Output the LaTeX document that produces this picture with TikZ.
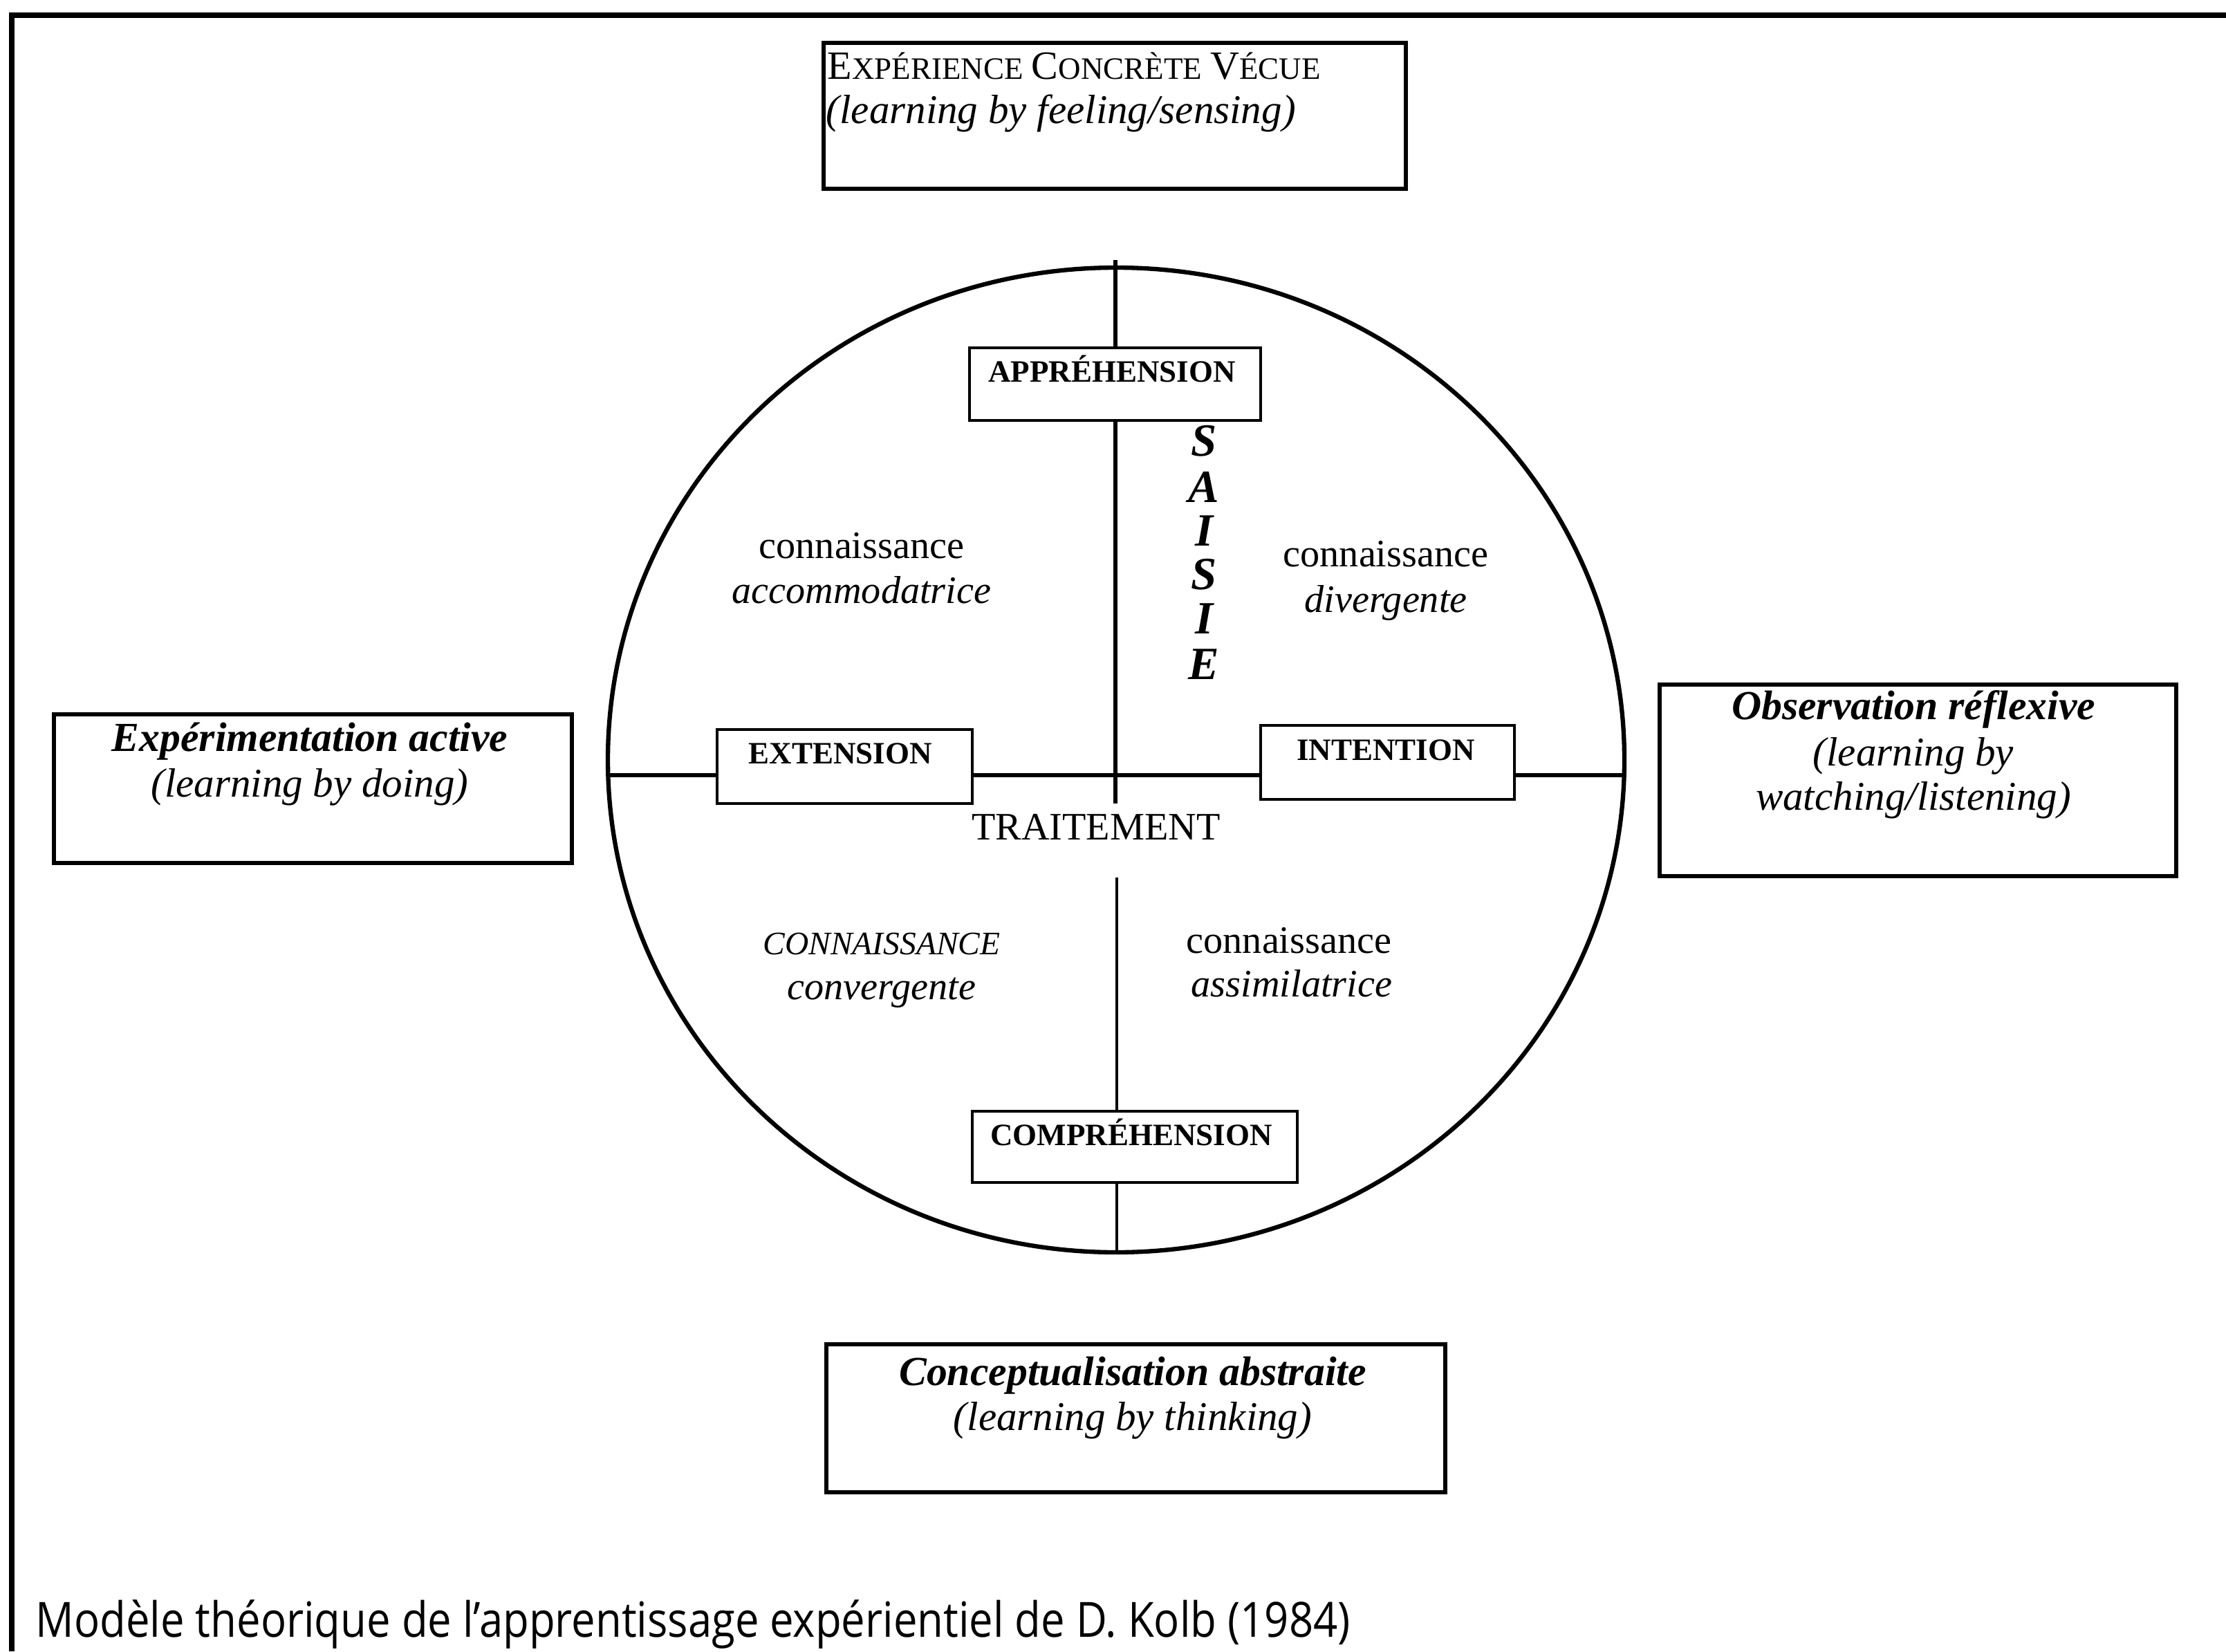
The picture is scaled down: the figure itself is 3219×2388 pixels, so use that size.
\documentclass[tikz,border=0pt]{standalone}
\usepackage{fontspec}
\usepackage{graphicx}
\setmainfont{Liberation Serif}
\newfontfamily\capfont{Open Sans}
\usetikzlibrary{fit}
\newcommand\skc[2]{{\fontsize{16.5}{18}\selectfont #1}{\fontsize{12.8}{15}\selectfont #2}}
\begin{document}
\begin{tikzpicture}[x=0.1mm,y=-0.1mm,
  bigbox/.style={draw, line width=1.7pt, inner sep=0pt},
  smallbox/.style={draw, line width=1.0pt, inner sep=0pt},
  axisline/.style={line width=1.8pt},
  thinaxis/.style={line width=1.2pt},
  lbl/.style={inner sep=0pt, anchor=base, font=\fontsize{16}{18}\selectfont},
  ilbl/.style={inner sep=0pt, anchor=base, font=\itshape\fontsize{16}{18}\selectfont},
  bcap/.style={inner sep=0pt, anchor=base, font=\bfseries\fontsize{12.8}{15}\selectfont},
  head/.style={inner sep=0pt, anchor=base, font=\bfseries\itshape\fontsize{17}{19}\selectfont},
  sub/.style={inner sep=0pt, anchor=base, font=\itshape\fontsize{16.8}{19}\selectfont},
  vlet/.style={inner sep=0pt, font=\bfseries\itshape\fontsize{19}{21}\selectfont}]
\useasboundingbox (0,0) rectangle (3219,2388);
% outer frame
\draw[line width=2.2pt] (17,2388) -- (17,22) -- (3219,22);

% outer boxes
\node[bigbox, fit={(1191,62) (2033,273)}] (ec) {};
\node[inner sep=0pt, anchor=base west, font=\fontsize{14}{16}\selectfont] (ec1) at (1196,115) {\skc{E}{XPÉRIENCE} \skc{C}{ONCRÈTE} \skc{V}{ÉCUE}};
\node[sub, anchor=base west] (ec2) at (1194,179) {(learning by feeling/sensing)};

\node[bigbox, fit={(78,1033) (827,1248)}] (ea) {};
\node[head] (ea1) at (448,1086) {Expérimentation active};
\node[sub] (ea2) at (448,1152) {(learning by doing)};

\node[bigbox, fit={(2400,990) (3147,1267)}] (or) {};
\node[head] (or1) at (2767,1040) {Observation réflexive};
\node[sub] (or2) at (2767,1107) {(learning by};
\node[sub] (or3) at (2767,1171) {watching/listening)};

\node[bigbox, fit={(1195,1944) (2090,2158)}] (ca) {};
\node[head] (ca1) at (1638,2003) {Conceptualisation abstraite};
\node[sub] (ca2) at (1638,2068) {(learning by thinking)};

% circle
\draw[axisline] (1614,1099) ellipse [x radius=735, y radius=712];

% inner boxes
\node[smallbox, fit={(1402,503) (1823,608)}] (app) {};
\node[bcap] (app1) at (1608,552) {APPRÉHENSION};
\node[smallbox, fit={(1406,1607) (1876,1710)}] (comp) {};
\node[bcap] (comp1) at (1636,1656) {COMPRÉHENSION};
\node[smallbox, fit={(1037,1055) (1406,1162)}] (ext) {};
\node[bcap] (ext1) at (1215,1104) {EXTENSION};
\node[smallbox, fit={(1823,1049) (2190,1156)}] (int) {};
\node[bcap] (int1) at (2004,1099) {INTENTION};

% axes
\coordinate (cl) at (879.4,1121);
\coordinate (cr) at (2348.6,1121);
\coordinate (vt) at (1613,376);
\coordinate (vm) at (1613,1162);
\coordinate (vb1) at (1615,1269);
\coordinate (vb2) at (1615,1810);
\draw[axisline] (cl) -- (cl -| ext.west);
\draw[axisline] (cl -| ext.east) -- (cl -| int.west);
\draw[axisline] (cl -| int.east) -- (cr);
\draw[axisline] (vt) -- (vt |- app.north);
\draw[axisline] (vt |- app.south) -- (vm);
\draw[thinaxis] (vb1) -- (vb1 |- comp.north);
\draw[thinaxis] (vb1 |- comp.south) -- (vb2);

% SAISIE
\node[vlet] (s1) at (1741,638) {S};
\node[vlet] (s2) at (1741,704) {A};
\node[vlet] (s3) at (1741,768) {I};
\node[vlet] (s4) at (1741,831) {S};
\node[vlet] (s5) at (1741,895) {I};
\node[vlet] (s6) at (1741,961) {E};

% quadrant texts
\node[lbl] (q1a) at (1246,807) {connaissance};
\node[ilbl] (q1b) at (1246,872) {accommodatrice};
\node[lbl] (q2a) at (2004,819) {connaissance};
\node[ilbl] (q2b) at (2004,885) {divergente};
\node[inner sep=0pt, anchor=base, font=\itshape\fontsize{13.5}{15}\selectfont] (q3a) at (1275,1380) {CONNAISSANCE};
\node[ilbl] (q3b) at (1275,1445) {convergente};
\node[lbl] (q4a) at (1864,1378) {connaissance};
\node[ilbl] (q4b) at (1868,1441) {assimilatrice};
\node[lbl] (trt) at (1585,1214) {TRAITEMENT};

% caption
\node[inner sep=0pt, anchor=base west] (cap) at (51,2367) {\resizebox{190.1mm}{\height}{\capfont\fontsize{20}{24}\selectfont Modèle théorique de l’apprentissage expérientiel de D. Kolb (1984)}};
\end{tikzpicture}
\end{document}
